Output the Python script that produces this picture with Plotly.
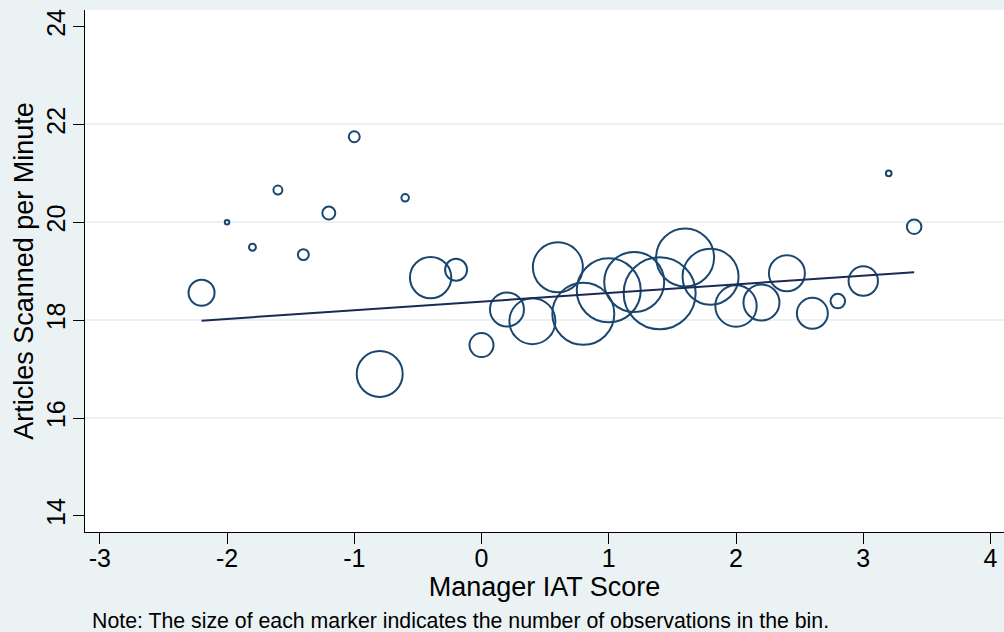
import plotly.graph_objects as go

# Binned data: manager IAT score (bin centre), mean articles scanned per minute, observations in bin
iat_bin = [-2.2, -2.0, -1.8, -1.6, -1.4, -1.2, -1.0, -0.8, -0.6, -0.4, -0.2, 0.0,
           0.2, 0.4, 0.6, 0.8, 1.0, 1.2, 1.4, 1.6, 1.8, 2.0, 2.2, 2.4, 2.6, 2.8,
           3.0, 3.2, 3.4]
articles = [18.56, 20.00, 19.49, 20.66, 19.34, 20.19, 21.75, 16.90, 20.50, 18.87, 19.03, 17.49,
            18.22, 17.98, 19.08, 18.13, 18.61, 18.78, 18.55, 19.28, 18.89, 18.29, 18.36, 18.96, 18.14, 18.39,
            18.80, 21.00, 19.91]
n_obs = [169, 5, 12, 20, 30, 42, 30, 529, 14, 428, 121, 144,
         289, 529, 625, 961, 1024, 900, 1296, 841, 784, 428, 324, 324, 240, 53,
         216, 8, 53]

# Linear fit endpoints
fit_x = [-2.2, 3.4]
fit_y = [17.99, 18.98]

x_ticks = [-3, -2, -1, 0, 1, 2, 3, 4]
y_ticks = [14, 16, 18, 20, 22, 24]
y_grid = [16, 18, 20, 22]

FONT = "Liberation Sans, Arial, sans-serif"
BG = "#EAF2F3"
NAVY = "#1A476F"

fig = go.Figure()

fig.add_trace(go.Scatter(
    x=iat_bin, y=articles, mode="markers",
    marker=dict(symbol="circle-open", size=n_obs, sizemode="area", sizeref=0.5,
                color=NAVY, opacity=1, line=dict(width=2, color=NAVY)),
    showlegend=False, cliponaxis=False,
))

fig.add_trace(go.Scatter(
    x=fit_x, y=fit_y, mode="lines",
    line=dict(color="#1B2A55", width=2),
    showlegend=False,
))

# invisible trace on the gridline axis
fig.add_trace(go.Scatter(x=[None], y=[None], yaxis="y2", showlegend=False))

fig.update_layout(
    width=1004, height=632,
    paper_bgcolor=BG, plot_bgcolor="white",
    margin=dict(l=85, r=0, t=10, b=100),
    font=dict(family=FONT, color="black"),
    xaxis=dict(
        range=[-3.116, 4.106], tickvals=x_ticks, ticktext=[str(v) for v in x_ticks],
        ticks="outside", ticklen=11, tickwidth=1.3, tickcolor="black",
        showline=True, linecolor="black", linewidth=1.4,
        showgrid=False, zeroline=False,
        tickfont=dict(size=25),
        ticklabelstandoff=-7,
        title=dict(text="Manager IAT Score", font=dict(size=27), standoff=2),
    ),
    yaxis=dict(
        range=[13.67, 24.34], tickvals=y_ticks, ticktext=[str(v) for v in y_ticks],
        tickangle=-90,
        ticks="outside", ticklen=11, tickwidth=1.3, tickcolor="black",
        showline=True, linecolor="black", linewidth=1.4,
        showgrid=False, zeroline=False,
        tickfont=dict(size=25),
        ticklabelstandoff=-2,
        title=dict(text="Articles Scanned per Minute", font=dict(size=27), standoff=0),
    ),
    yaxis2=dict(
        range=[13.67, 24.34], overlaying="y", tickvals=y_grid,
        showgrid=True, gridcolor=BG, gridwidth=2,
        showticklabels=False, ticks="", showline=False, zeroline=False,
    ),
    annotations=[dict(
        text="Note: The size of each marker indicates the number of observations in the bin.",
        xref="paper", yref="paper", x=0.0055, y=-0.171,
        xanchor="left", yanchor="middle", showarrow=False,
        font=dict(size=21.3, family=FONT, color="black"),
    )],
)

fig.write_html(
    "out.html",
    config={"displayModeBar": False},
    post_script="document.body.style.margin='0';document.body.style.padding='0';",
)
